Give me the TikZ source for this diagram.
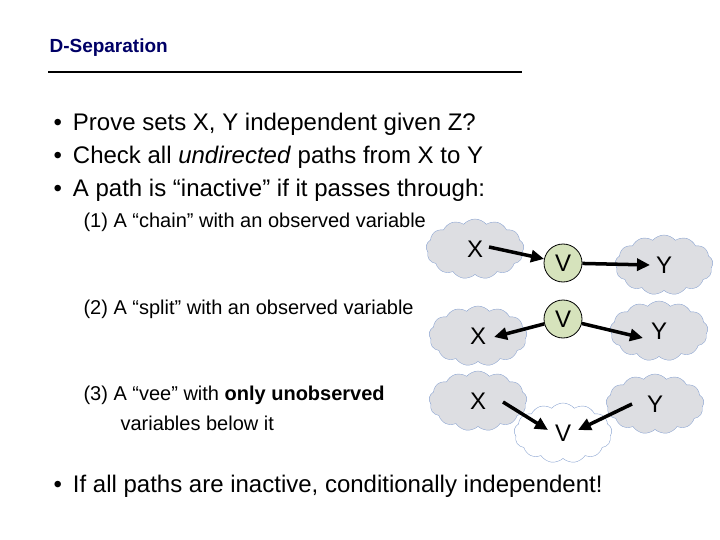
\documentclass[tikz,border=0pt]{standalone}
\usepackage{fontspec}
\setmainfont{Liberation Sans}
\usetikzlibrary{shapes.symbols,arrows.meta}
\definecolor{titleblue}{RGB}{0,0,102}
\definecolor{cloudfill}{RGB}{221,222,226}
\definecolor{cloudline}{RGB}{140,165,210}
\definecolor{obsfill}{RGB}{214,227,188}
\tikzset{
  vcloud/.style={cloud, cloud puffs=13, cloud puff arc=100, aspect=1.7, draw=cloudline,
    fill=cloudfill, minimum width=98pt, minimum height=60pt, inner sep=0pt, font=\fontsize{24}{26}\selectfont},
  hidcloud/.style={vcloud, fill=white},
  obsnode/.style={circle, draw=black, thick, fill=obsfill, minimum size=38pt, inner sep=0pt,
    font=\fontsize{24}{26}\selectfont},
  arc/.style={line width=3.5pt, -{Triangle[length=13pt,width=12pt]}},
  bul/.style={anchor=west, font=\fontsize{24}{28}\selectfont},
  sub/.style={anchor=west, font=\fontsize{20}{23}\selectfont}
}
\begin{document}
\begin{tikzpicture}[x=1pt,y=-1pt]
  \useasboundingbox (0,0) rectangle (720,540);
  % title
  \node[anchor=west, text=titleblue, font=\bfseries\fontsize{19}{21}\selectfont] (title) at (46,48) {D-Separation};
  \draw[line width=2.5pt] (48,72) -- (522,72);
  % bullets
  \node[bul] (b1) at (50,124) {\textbullet\hspace{11pt}Prove sets X, Y independent given Z?};
  \node[bul] (b2) at (50,157) {\textbullet\hspace{11pt}Check all \textit{undirected} paths from X to Y};
  \node[bul] (b3) at (50,190) {\textbullet\hspace{11pt}A path is “inactive” if it passes through:};
  \node[sub] (s1) at (80,222) {(1) A “chain” with an observed variable};
  \node[sub] (s2) at (80,309) {(2) A “split” with an observed variable};
  \node[sub] (s3) at (80,395) {(3) A “vee” with \textbf{only unobserved}};
  \node[sub] (s3b) at (117,423) {variables below it};
  \node[bul] (b4) at (50,486) {\textbullet\hspace{11pt}If all paths are inactive, conditionally independent!};
  % chain
  \node[vcloud] (x1) at (475,249) {X};
  \node[obsnode] (v1) at (563,263) {V};
  \node[vcloud] (y1) at (664,265) {Y};
  \draw[arc] (489,247) -- (v1);
  \draw[arc] (v1) -- (650,265);
  % split
  \node[vcloud] (x2) at (478,336) {X};
  \node[obsnode] (v2) at (563,319) {V};
  \node[vcloud] (y2) at (659,331) {Y};
  \draw[arc] (v2) -- (494,337);
  \draw[arc] (v2) -- (643,338);
  % vee
  \node[vcloud] (x3) at (478,401) {X};
  \node[hidcloud] (v3) at (563,433) {V};
  \node[vcloud] (y3) at (655,404) {Y};
  \draw[arc] (503,402) -- (548,430);
  \draw[arc] (632,404) -- (578,430);
\end{tikzpicture}
\end{document}
